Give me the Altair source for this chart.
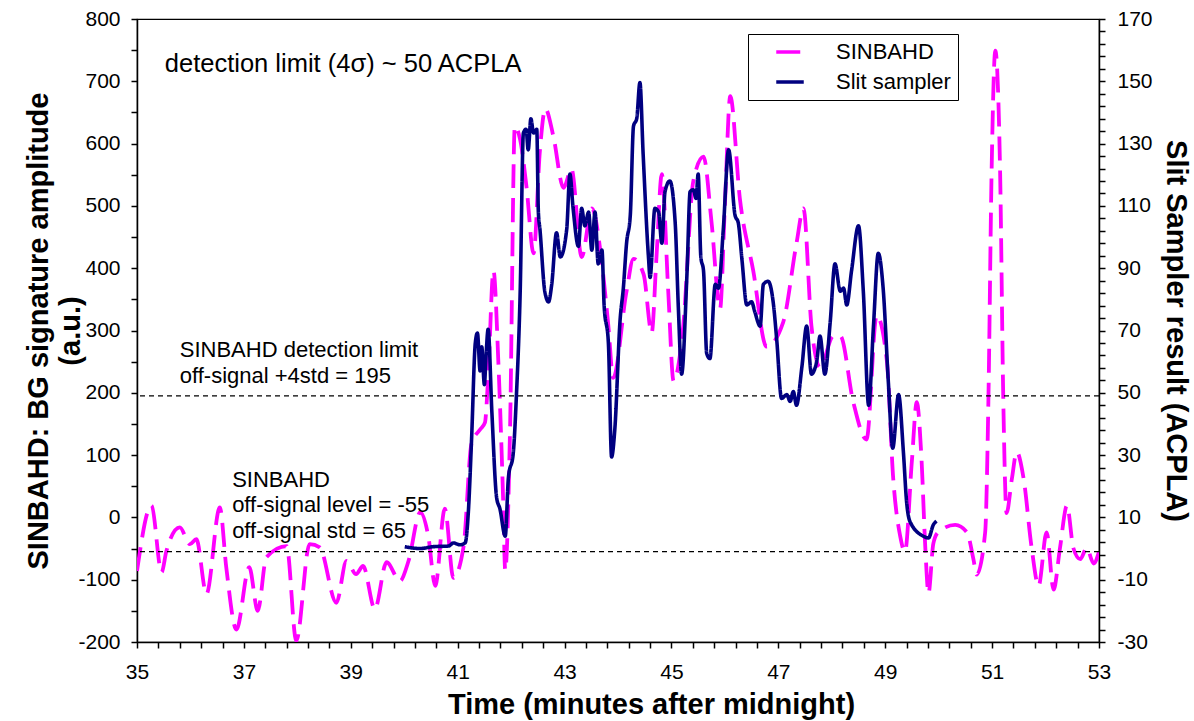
import altair as alt
import pandas as pd

FONT = "Liberation Sans"

# ---- data ----
sinbahd_time = [35.0, 35.27, 35.46, 35.55, 35.8, 35.99, 36.11, 36.3, 36.55, 36.67, 36.86, 37.1, 37.26,
                37.42, 37.8, 37.98, 38.23, 38.42, 38.73, 38.92, 39.1, 39.23, 39.45, 39.67, 39.92, 40.08,
                40.3, 40.45, 40.58, 40.76, 40.92, 41.11, 41.26, 41.42, 41.51, 41.57, 41.67, 41.76, 41.85,
                41.89, 41.98, 42.07, 42.17, 42.29, 42.42, 42.54, 42.64, 42.79, 42.98, 43.13, 43.32, 43.51,
                43.7, 43.82, 43.91, 44.16, 44.29, 44.48, 44.63, 44.72, 44.82, 44.94, 45.04, 45.22, 45.41,
                45.6, 45.75, 45.91, 46.0, 46.1, 46.28, 46.53, 46.78, 47.09, 47.34, 47.47, 47.62, 47.78,
                48.03, 48.16, 48.4, 48.65, 48.84, 49.03, 49.15, 49.28, 49.37, 49.5, 49.59, 49.68, 49.75,
                49.81, 49.9, 49.99, 50.31, 50.53, 50.65, 50.71, 50.87, 50.93, 50.99, 51.06, 51.15, 51.21,
                51.27, 51.37, 51.46, 51.59, 51.74, 51.87, 52.02, 52.15, 52.27, 52.4, 52.52, 52.65, 52.77,
                52.9, 53.0]
sinbahd_amp = [-86, 19, -88, -54, -16, -43, -35, -123, 16, -80, -180, -80, -150,
               -64, -46, -198, -43, -48, -137, -70, -91, -78, -147, -72, -102, -70,
               8, -30, -110, 14, -97, -47, 119, 141, 152, 224, 396, 252, 31,
               -85, 141, 628, 606, 529, 424, 590, 656, 612, 529, 559, 418, 496,
               407, 307, 224, 363, 415, 390, 296, 418, 551, 363, 219, 307, 540,
               579, 474, 335, 501, 676, 512, 396, 274, 313, 440, 496, 307, 241,
               291, 291, 186, 125, 324, 252, 62, -30, -55, 92, 185, 92, -49,
               -122, -42, -24, -12, -24, -67, -92, -24, 185, 553, 749, 553, 185,
               7, 62, 105, 62, -49, -110, -24, -116, -49, 19, -49, -67, -49,
               -74, -55]

slit_time = [40.01, 40.3, 40.54, 40.83, 40.92, 41.04, 41.14, 41.2, 41.26, 41.33, 41.37, 41.42, 41.45,
             41.5, 41.53, 41.57, 41.64, 41.73, 41.79, 41.89, 41.95, 42.04, 42.1, 42.17, 42.23, 42.28,
             42.32, 42.37, 42.42, 42.48, 42.51, 42.54, 42.63, 42.7, 42.76, 42.85, 42.92, 43.04, 43.1,
             43.16, 43.26, 43.32, 43.38, 43.45, 43.51, 43.57, 43.63, 43.7, 43.74, 43.82, 43.88, 43.94,
             44.04, 44.1, 44.16, 44.23, 44.29, 44.35, 44.41, 44.47, 44.57, 44.6, 44.69, 44.76, 44.82,
             44.88, 44.97, 45.07, 45.13, 45.19, 45.29, 45.35, 45.41, 45.46, 45.5, 45.55, 45.6, 45.66,
             45.72, 45.82, 45.88, 45.97, 46.07, 46.19, 46.25, 46.32, 46.41, 46.5, 46.56, 46.66, 46.72,
             46.81, 46.91, 46.97, 47.06, 47.16, 47.22, 47.28, 47.34, 47.44, 47.53, 47.62, 47.72, 47.78,
             47.87, 47.97, 48.06, 48.16, 48.22, 48.28, 48.37, 48.5, 48.59, 48.69, 48.78, 48.87, 48.96,
             49.06, 49.14, 49.25, 49.34, 49.4, 49.46, 49.71, 49.81, 49.9, 49.96]
slit_acpla = [0.6, 0.0, 0.6, 0.8, 1.8, 1.2, 1.8, 11.8, 35.0, 66.0, 69.2, 57.0, 64.8,
              52.6, 61.6, 70.4, 43.8, 16.2, 12.8, 4.0, 22.8, 30.6, 49.4, 82.6, 133.4, 134.6,
              128.0, 138.0, 133.4, 134.6, 108.0, 102.4, 82.6, 79.2, 84.8, 101.4, 93.6, 102.4, 120.2,
              109.2, 97.0, 109.2, 103.6, 108.0, 95.8, 108.0, 91.4, 95.8, 78.2, 66.0, 29.4, 38.2,
              73.6, 83.6, 98.0, 107.0, 135.6, 138.0, 149.6, 126.8, 93.6, 87.0, 109.2, 108.0, 98.0,
              114.6, 118.0, 104.6, 77.0, 56.0, 88.0, 114.6, 115.2, 112.4, 120.2, 93.6, 89.2, 62.6,
              61.0, 84.8, 83.6, 102.4, 128.0, 107.0, 104.6, 92.6, 78.2, 79.2, 76.0, 71.4, 84.8,
              85.8, 78.2, 67.0, 48.2, 49.4, 47.2, 50.4, 46.0, 58.2, 71.4, 56.0, 60.4, 68.2,
              56.0, 72.6, 91.4, 82.6, 83.6, 78.2, 89.2, 103.6, 82.6, 46.0, 71.4, 94.8, 83.8,
              53.0, 32.2, 49.4, 31.0, 15.0, 8.8, 4.0, 3.4, 7.6, 8.8]

series_names = ["SINBAHD", "Slit sampler"]
series_colors = ["#FF00FF", "#000080"]
detection_levels = [195, -55]

x_ticks = [round(35 + 0.4 * i, 1) for i in range(46)]
left_ticks = list(range(-200, 801, 50))
right_ticks = list(range(-30, 171, 4))

annotation_top = ["detection limit (4\u03c3) ~ 50 ACPLA"]
annotation_mid = ["SINBAHD detection limit", "off-signal +4std = 195"]
annotation_low = ["SINBAHD", "off-signal level = -55", "off-signal std = 65"]

sin_df = pd.DataFrame({"time": sinbahd_time, "value": sinbahd_amp, "series": "SINBAHD"})
slit_df = pd.DataFrame({"time": slit_time, "value": slit_acpla, "series": "Slit sampler"})
rule_df = pd.DataFrame({"value": detection_levels})

# ---- scales / axes ----
x_scale = alt.Scale(domain=[35, 53], nice=False, zero=False)
left_scale = alt.Scale(domain=[-200, 800], nice=False, zero=False)
right_scale = alt.Scale(domain=[-30, 170], nice=False, zero=False)

x_axis = alt.Axis(values=x_ticks,
                  labelExpr="((datum.value - 35) % 2 < 0.01 || (datum.value - 35) % 2 > 1.99) ? '' + datum.value : ''",
                  title="Time (minutes after midnight)", titleX=514, titleY=62, titleBaseline="middle",
                  titleAnchor="start", titleAlign="center",
                  labelPadding=13, tickSize=6, grid=False, labelFlush=False, labelOverlap=False)
left_axis = alt.Axis(values=left_ticks, orient="left",
                     labelExpr="datum.value % 100 == 0 ? '' + datum.value : ''",
                     title=["SINBAHD: BG signature amplitude", "(a.u.)"],
                     titleAngle=-90, titleX=-99, titleY=311.5, titleAlign="center",
                     titleBaseline="middle", titleLineHeight=32,
                     labelPadding=11, tickSize=6, grid=False, labelOverlap=False)
right_axis = alt.Axis(values=right_ticks, orient="right",
                      labelExpr="(datum.value + 30) % 20 == 0 ? '' + datum.value : ''",
                      title="Slit Sampler result (ACPLA)",
                      titleAngle=90, titleX=76, titleY=311.5, titleAlign="center",
                      titleBaseline="middle",
                      labelPadding=12, tickSize=6, grid=False, labelOverlap=False)

legend = alt.Legend(orient="none", legendX=611, legendY=15, title=None,
                    labelFont=FONT, labelFontSize=22, labelColor="black",
                    symbolType="M-2.5,0H2.5", symbolSize=121, symbolStrokeWidth=3.5,
                    strokeColor="black", fillColor="white", padding=7, rowPadding=8,
                    symbolOffset=24, labelOffset=35)

color = alt.Color("series:N", scale=alt.Scale(domain=series_names, range=series_colors), legend=legend)
dash = alt.StrokeDash("series:N", scale=alt.Scale(domain=series_names, range=[[24, 10], [1, 0]]),
                      legend=legend)

X_ENC = alt.X("time:Q", scale=x_scale, axis=x_axis)
Y_LEFT = alt.Y("value:Q", scale=left_scale, axis=left_axis)

pink = alt.Chart(sin_df).mark_line(interpolate="monotone", strokeWidth=3.8, clip=True).encode(
    x=X_ENC, y=Y_LEFT, color=color, strokeDash=dash,
)

rules = alt.Chart(rule_df).mark_rule(color="black", strokeWidth=1.2, strokeDash=[5, 4]).encode(
    y=Y_LEFT
)


def text_layer(lines, x0, y0, size, step):
    df = pd.DataFrame({"label": lines, "row": list(range(len(lines)))})
    return alt.Chart(df).transform_calculate(
        value=f"{y0} - datum.row * {step}", time=f"{x0}"
    ).mark_text(align="left", baseline="alphabetic", font=FONT, fontSize=size, color="black").encode(
        x=X_ENC, y=Y_LEFT, text="label:N",
    )


t_top = text_layer(annotation_top, 35.52, 715, 25.5, 0)
t_mid = text_layer(annotation_mid, 35.80, 257, 22, 41.5)
t_low = text_layer(annotation_low, 36.78, 49, 22, 41)

left_layer = alt.layer(pink, rules, t_top, t_mid, t_low)

navy = alt.Chart(slit_df).mark_line(interpolate="monotone", strokeWidth=3.6, clip=True).encode(
    x=X_ENC,
    y=alt.Y("value:Q", scale=right_scale, axis=right_axis),
    color=color, strokeDash=dash,
)

chart = alt.layer(left_layer, navy).resolve_scale(y="independent").properties(
    width=962, height=623,
    autosize=alt.AutoSizeParams(type="none"),
    padding={"left": 137, "top": 19, "right": 95, "bottom": 79},
    background="white",
).configure_view(stroke="black", strokeWidth=1.2).configure_axis(
    domainColor="black", domainWidth=1.5, tickColor="black", tickWidth=1.5,
    labelFont=FONT, labelFontSize=21, labelColor="black",
    titleFont=FONT, titleFontSize=29, titleFontWeight="bold", titleColor="black",
)

chart.save("out.html", embed_options={"renderer": "svg", "actions": False})
